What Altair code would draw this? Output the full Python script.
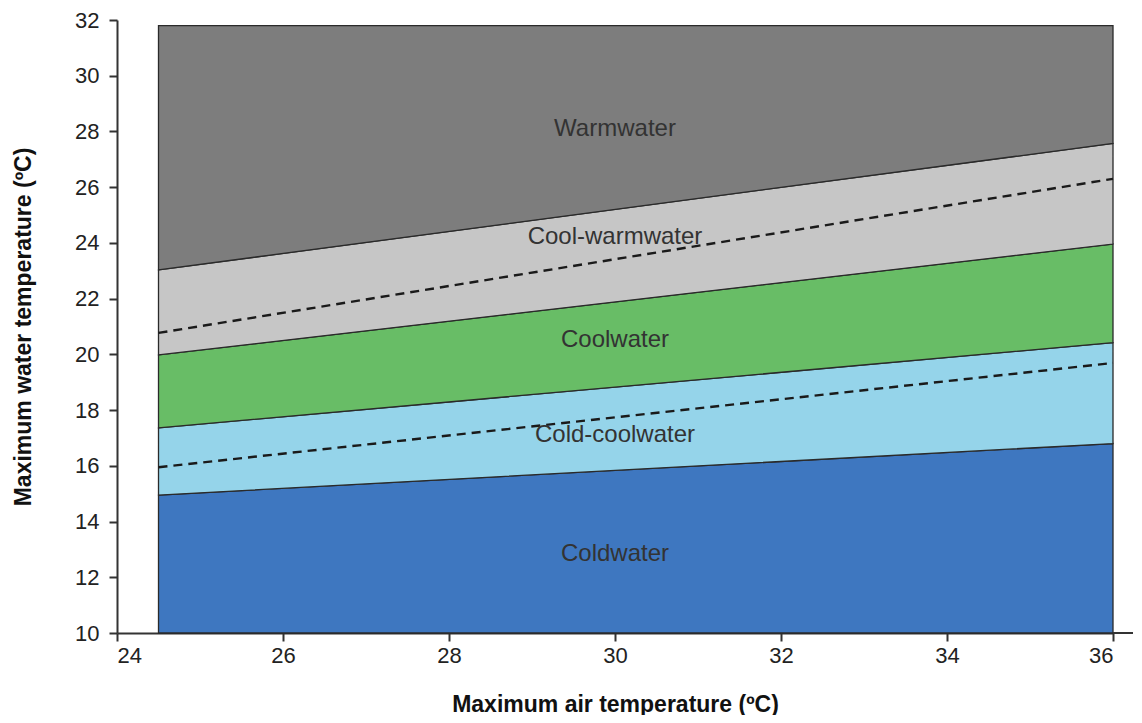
import altair as alt
import pandas as pd

# x positions (maximum air temperature, ºC)
x_start = 24.5
x_end = 36.0

# boundaries (water temperature at x_start, x_end)
bands = ["Coldwater", "Cold-coolwater", "Coolwater", "Cool-warmwater", "Warmwater"]
lower_start = [10.0, 14.95, 17.36, 19.98, 23.03]
lower_end = [10.0, 16.8, 20.42, 23.96, 27.57]
upper_start = [14.95, 17.36, 19.98, 23.03, 31.8]
upper_end = [16.8, 20.42, 23.96, 27.57, 31.8]
colors = ["#3e77c0", "#95d4ea", "#68bd66", "#c6c6c6", "#7d7d7d"]

# dashed lines
dash_names = ["lower", "upper"]
dash_start = [15.95, 20.77]
dash_end = [19.69, 26.3]

# band labels
label_x = [30.0, 30.0, 30.0, 30.0, 30.0]
label_y = [12.85, 17.1, 20.5, 24.2, 28.1]

x_ticks = [24, 26, 28, 30, 32, 34, 36]
y_ticks = [10, 12, 14, 16, 18, 20, 22, 24, 26, 28, 30, 32]

rows = []
for i, b in enumerate(bands):
    rows.append({"band": b, "order": i, "x": x_start, "lo": lower_start[i], "hi": upper_start[i]})
    rows.append({"band": b, "order": i, "x": x_end, "lo": lower_end[i], "hi": upper_end[i]})
df_area = pd.DataFrame(rows)

drows = []
for i, d in enumerate(dash_names):
    drows.append({"line": d, "x": x_start, "y": dash_start[i]})
    drows.append({"line": d, "x": x_end, "y": dash_end[i]})
df_dash = pd.DataFrame(drows)

df_lab = pd.DataFrame({"band": bands, "x": label_x, "y": label_y})

font = "Liberation Sans"

xs = alt.Scale(domain=[24, 36], nice=False, zero=False)
ys = alt.Scale(domain=[10, 32], nice=False, zero=False)

areas = alt.Chart(df_area).mark_area(stroke="#2a2a2a", strokeWidth=1.3, opacity=1).encode(
    x=alt.X("x:Q", scale=xs,
            axis=alt.Axis(title="Maximum air temperature (ºC)", values=x_ticks, format="d",
                          grid=False, tickSize=8, labelPadding=4, titlePadding=27,
                          labelFontSize=22, titleFontSize=23)),
    y=alt.Y("lo:Q", scale=ys,
            axis=alt.Axis(title="Maximum water temperature (ºC)", values=y_ticks, format="d",
                          grid=False, tickSize=8, labelPadding=10, titlePadding=39,
                          labelFontSize=22, titleFontSize=23)),
    y2="hi:Q",
    color=alt.Color("band:N", scale=alt.Scale(domain=bands, range=colors), legend=None),
    detail="band:N",
)

dashes = alt.Chart(df_dash).mark_line(color="#1a1a1a", strokeWidth=2.4, strokeDash=[9, 6]).encode(
    x=alt.X("x:Q", scale=xs),
    y=alt.Y("y:Q", scale=ys),
    detail="line:N",
)

labels = alt.Chart(df_lab).mark_text(font=font, fontSize=24, color="#333333").encode(
    x=alt.X("x:Q", scale=xs),
    y=alt.Y("y:Q", scale=ys),
    text="band:N",
)

axis_ext = alt.Chart(pd.DataFrame({"a": [0]})).mark_rule(color="#333333", strokeWidth=2).encode(
    x=alt.value(996), x2=alt.value(1030), y=alt.value(613)
)

chart = alt.layer(areas, dashes, labels, axis_ext).properties(
    width=996, height=613,
    autosize=alt.AutoSizeParams(type="none"),
    padding={"left": 109, "top": 12, "right": 20, "bottom": 82},
).configure_view(stroke=None).configure_axis(
    domainColor="#333333", domainWidth=2, tickColor="#333333", tickWidth=2,
    labelFont=font, labelColor="#222222", labelFontWeight="normal",
    titleFont=font, titleColor="#111111", titleFontWeight="bold",
)

chart.save("out.html", embed_options={"renderer": "svg", "actions": False})
